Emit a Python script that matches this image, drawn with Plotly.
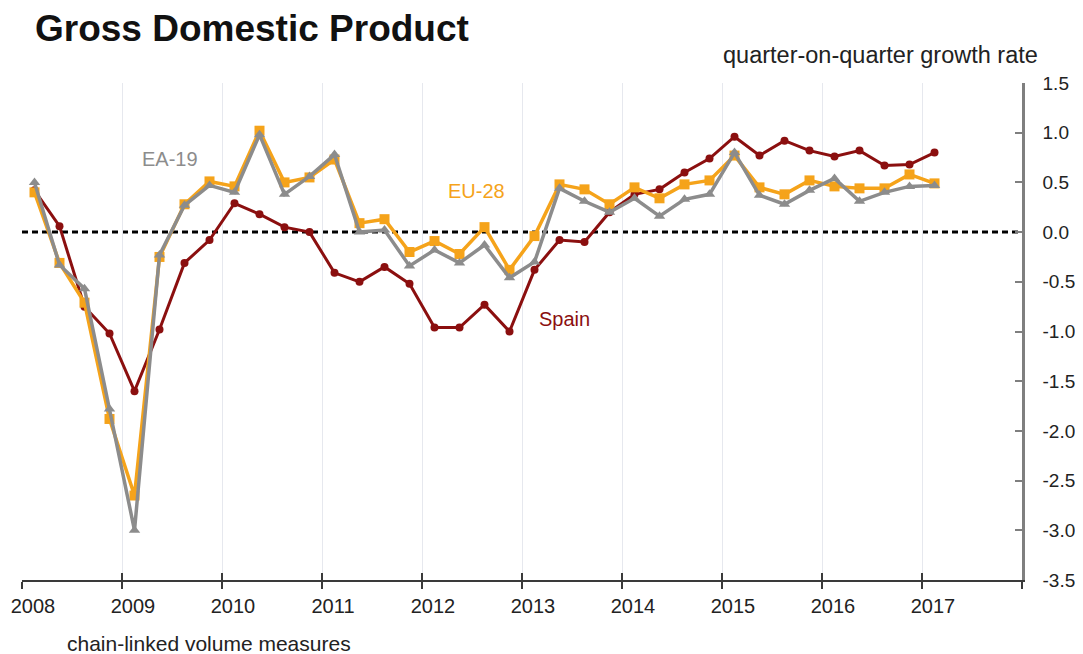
import plotly.graph_objects as go

quarters = [f"{y}Q{q}" for y in range(2008, 2017) for q in range(1, 5)] + ["2017Q1"]

spain = [0.42, 0.06, -0.75, -1.02,
         -1.60, -0.98, -0.31, -0.08,
         0.29, 0.18, 0.05, 0.00,
         -0.41, -0.50, -0.35, -0.52,
         -0.96, -0.96, -0.73, -1.00,
         -0.38, -0.08, -0.10, 0.20,
         0.38, 0.43, 0.60, 0.74,
         0.96, 0.77, 0.92, 0.82,
         0.76, 0.82, 0.67, 0.68,
         0.80]

eu28 = [0.40, -0.31, -0.71, -1.88,
        -2.65, -0.25, 0.28, 0.51,
        0.46, 1.02, 0.50, 0.55,
        0.73, 0.09, 0.13, -0.20,
        -0.09, -0.22, 0.05, -0.38,
        -0.04, 0.48, 0.43, 0.28,
        0.45, 0.34, 0.48, 0.52,
        0.77, 0.45, 0.38, 0.52,
        0.46, 0.44, 0.44, 0.58,
        0.49]

ea19 = [0.50, -0.33, -0.57, -1.78,
        -3.00, -0.23, 0.27, 0.47,
        0.40, 0.98, 0.38, 0.56,
        0.78, 0.00, 0.02, -0.34,
        -0.18, -0.31, -0.13, -0.46,
        -0.30, 0.44, 0.31, 0.20,
        0.34, 0.16, 0.33, 0.38,
        0.80, 0.37, 0.28, 0.42,
        0.54, 0.31, 0.40, 0.46,
        0.47]

year_ticks = list(range(2008, 2018))
year_labels = [str(y) for y in year_ticks]
y_ticks = [1.5, 1.0, 0.5, 0.0, -0.5, -1.0, -1.5, -2.0, -2.5, -3.0, -3.5]
y_labels = [f"{v:.1f}".replace("\u2212", "-") for v in y_ticks]


def qpos(label):
    y, q = label.split("Q")
    return int(y) + (int(q) - 0.5) / 4


xs = [qpos(q) for q in quarters]

RED = "#8B0F0F"
ORANGE = "#F5A31A"
GRAY = "#8C8C8C"
FONT = "Liberation Sans, Arial, sans-serif"

fig = go.Figure()
fig.add_trace(go.Scatter(x=xs, y=spain, mode="lines+markers", name="Spain",
                         line=dict(color=RED, width=3),
                         marker=dict(symbol="circle", size=8, color=RED)))
fig.add_trace(go.Scatter(x=xs, y=eu28, mode="lines+markers", name="EU-28",
                         line=dict(color=ORANGE, width=3.5),
                         marker=dict(symbol="square", size=10, color=ORANGE)))
fig.add_trace(go.Scatter(x=xs, y=ea19, mode="lines+markers", name="EA-19",
                         line=dict(color=GRAY, width=3.5),
                         marker=dict(symbol="triangle-up", size=10, color=GRAY)))
# invisible helper trace for the upper half of the x tick marks
fig.add_trace(go.Scatter(x=xs, y=spain, mode="lines", xaxis="x2",
                         line=dict(width=0), opacity=0, hoverinfo="skip",
                         showlegend=False))

fig.add_shape(type="line", xref="x", yref="y", x0=2008, x1=2018, y0=0, y1=0,
              line=dict(color="black", width=3, dash="6px,4px"), layer="below")

# page body has an 8px default margin, so the figure is sized to fit the window
fig.update_layout(
    width=1075, height=646,
    margin=dict(l=14, r=61, t=75, b=74, autoexpand=False),
    paper_bgcolor="white", plot_bgcolor="white",
    showlegend=False,
    font=dict(family=FONT, color="#222222", size=18),
    xaxis=dict(range=[2008, 2018], tickvals=year_ticks + [2018],
               ticktext=year_labels + [""], automargin=False,
               ticklabeloverflow="allow", ticklabelshift=11,
               showgrid=True, gridcolor="#E6E8EE", gridwidth=1,
               showline=True, linecolor="#3A3A3A", linewidth=2,
               ticks="outside", ticklen=7, tickwidth=1.5, tickcolor="#3A3A3A",
               tickfont=dict(size=20, family=FONT, color="#222222"),
               zeroline=False, fixedrange=True),
    xaxis2=dict(range=[2008, 2018], overlaying="x", anchor="y", side="bottom",
                tickvals=year_ticks + [2018], showticklabels=False, automargin=False,
                ticks="inside", ticklen=7, tickwidth=1.5, tickcolor="#3A3A3A",
                showgrid=False, showline=False, zeroline=False),
    yaxis=dict(range=[-3.5, 1.5], side="right", tickvals=y_ticks,
               ticktext=y_labels, showgrid=False, automargin=False,
               ticklabeloverflow="allow",
               showline=True, linecolor="#7F7F7F", linewidth=2.5,
               ticks="inside", ticklen=7, tickwidth=1.5, tickcolor="#7F7F7F",
               ticklabelstandoff=14,
               tickfont=dict(size=19, family=FONT, color="#222222"),
               zeroline=False, fixedrange=True),
)

fig.add_annotation(text="<b>Gross Domestic Product</b>", xref="paper", yref="paper",
                   x=0.011, y=(580 - 29) / 497, xanchor="left", yanchor="middle",
                   showarrow=False, font=dict(size=37, family=FONT, color="#111111"))
fig.add_annotation(text="quarter-on-quarter growth rate", xref="paper", yref="paper",
                   x=1.018, y=(580 - 55) / 497, xanchor="right", yanchor="middle",
                   showarrow=False, font=dict(size=23.5, family=FONT, color="#222222"))
fig.add_annotation(text="chain-linked volume measures", xref="paper", yref="paper",
                   x=0.043, y=(580 - 657) / 497, xanchor="left", yanchor="bottom",
                   showarrow=False, font=dict(size=21, family=FONT, color="#222222"))

fig.add_annotation(text="EA-19", x=2009.48, y=0.74, xref="x", yref="y",
                   showarrow=False, font=dict(size=20, family=FONT, color="#8C8C8C"))
fig.add_annotation(text="EU-28", x=2012.54, y=0.41, xref="x", yref="y",
                   showarrow=False, font=dict(size=20, family=FONT, color=ORANGE))
fig.add_annotation(text="Spain", x=2013.42, y=-0.87, xref="x", yref="y",
                   showarrow=False, font=dict(size=20, family=FONT, color=RED))

fig.write_html("out.html")
